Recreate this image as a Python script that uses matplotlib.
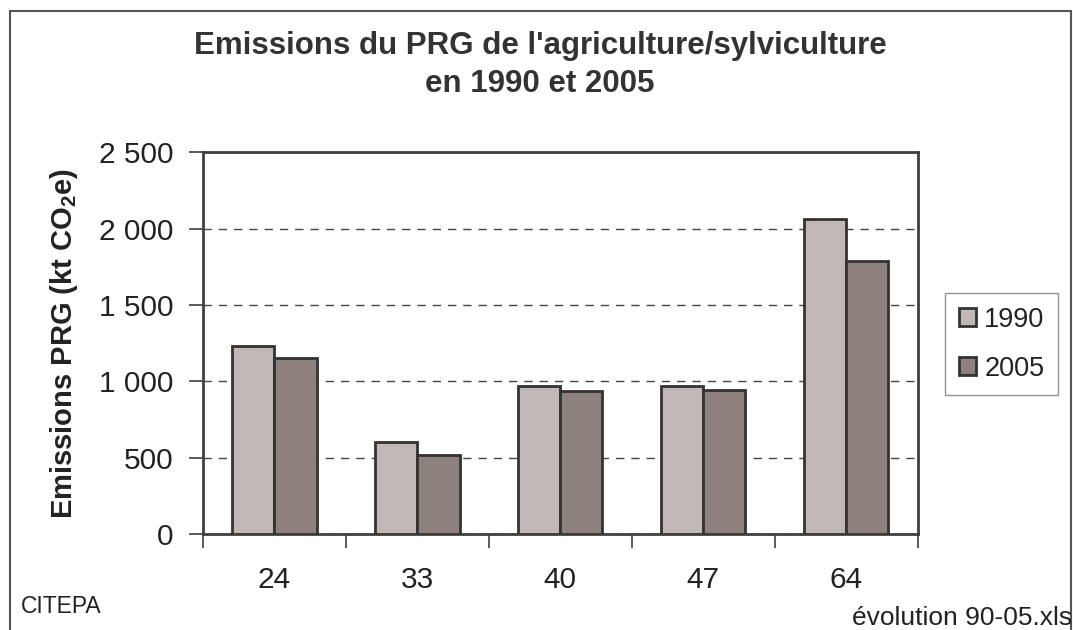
import numpy as np
import matplotlib
matplotlib.use('Agg')
import matplotlib.pyplot as plt
from matplotlib.patches import Rectangle

plt.rcParams['font.family'] = ['Liberation Sans', 'DejaVu Sans']
plt.rcParams['mathtext.fontset'] = 'custom'
plt.rcParams['mathtext.rm'] = 'Liberation Sans'
plt.rcParams['mathtext.bf'] = 'Liberation Sans:bold'

# data
departements = ['24', '33', '40', '47', '64']
emis_1990 = [1233, 600, 971, 971, 2061]
emis_2005 = [1150, 517, 939, 942, 1786]
yticks = [0, 500, 1000, 1500, 2000, 2500]
ytick_labels = ['0', '500', '1 000', '1 500', '2 000', '2 500']

col_1990 = '#C1B7B4'
col_2005 = '#8E817D'
edge = '#333333'
grey = '#404040'
txt = '#222222'

fig = plt.figure(figsize=(10.73, 6.3), dpi=100)
ax = fig.add_axes([203/1073, 1 - 534/630, (917.5 - 203)/1073, (534 - 152.3)/630])

x = np.arange(len(departements))
w = 0.295
ax.bar(x - w/2, emis_1990, w, color=col_1990, edgecolor=edge, linewidth=2, label='1990', zorder=3)
ax.bar(x + w/2, emis_2005, w, color=col_2005, edgecolor=edge, linewidth=2, label='2005', zorder=3)

ax.set_xlim(-0.5, len(departements) - 0.5)
ax.set_ylim(0, 2500)

# gridlines
ax.set_yticks(yticks)
ax.set_yticklabels(ytick_labels, fontsize=21.5, color=txt)
ax.yaxis.grid(True, linestyle=(0, (6, 5)), color='#444444', linewidth=1, zorder=0)

# x ticks at boundaries, labels in the middle
ax.set_xticks(np.arange(len(departements) + 1) - 0.5)
ax.set_xticklabels([])
ax.set_xticks(x, minor=True)
ax.set_xticklabels(departements, minor=True, fontsize=21.5, color=txt)
ax.tick_params(axis='x', which='minor', length=0, pad=23)
ax.tick_params(axis='x', which='major', length=10, width=1.2, color=grey)
ax.tick_params(axis='y', length=10, width=1.2, color=grey, pad=11)

for sp in ax.spines.values():
    sp.set_color(grey)
    sp.set_linewidth(2)

ax.set_ylabel(r'Emissions PRG (kt CO$_\mathbf{2}$e)', fontsize=21, fontweight='bold', color=txt)
ax.yaxis.set_label_coords((80 - 203) / (917.5 - 203), 0.5)

fig.text(540/1073, 1 - 65/630, "Emissions du PRG de l'agriculture/sylviculture\nen 1990 et 2005",
         ha='center', va='center', fontsize=22.5, fontweight='bold', color='#333333', linespacing=1.35)

leg = ax.legend(loc='upper left', bbox_to_anchor=(945/1073, 1 - 293/630), bbox_transform=fig.transFigure,
                borderaxespad=0, fontsize=19.5, frameon=True, fancybox=False, handlelength=0.65,
                handleheight=0.65, handletextpad=0.3, labelspacing=0.85, borderpad=0.5)
leg.get_frame().set_edgecolor('#777777')
leg.get_frame().set_linewidth(1)
for t in leg.get_texts():
    t.set_color(txt)

fig.text(21/1073, 1 - 613/630, 'CITEPA', ha='left', va='baseline', fontsize=16.5, color=txt)
fig.text(1072/1073, 1 - 625/630, 'évolution 90-05.xls', ha='right', va='baseline', fontsize=19, color=txt)

# outer frame
fig.patches.append(Rectangle((10/1073, -0.05), (1070.5 - 10)/1073, 1.05 - 11/630, transform=fig.transFigure,
                             fill=False, edgecolor='#555555', linewidth=1.5))

fig.savefig('out.png', dpi=100)
